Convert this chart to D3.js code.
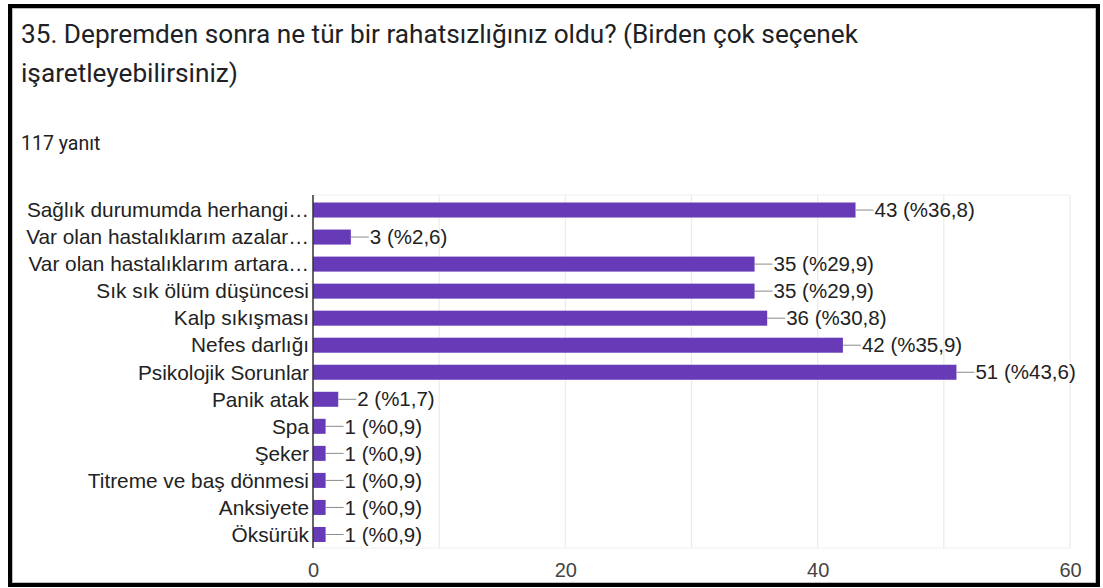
<!DOCTYPE html>
<html>
<head>
<meta charset="utf-8">
<script src="https://cdn.jsdelivr.net/npm/d3@7"></script>
<style>
  body { margin: 0; background: #fff; }
  svg { display: block; }
</style>
</head>
<body>
<div id="vis"></div>
<script>
// chart data
var categories = [
    "Sağlık durumumda herhangi…",
    "Var olan hastalıklarım azalar…",
    "Var olan hastalıklarım artara…",
    "Sık sık ölüm düşüncesi",
    "Kalp sıkışması",
    "Nefes darlığı",
    "Psikolojik Sorunlar",
    "Panik atak",
    "Spa",
    "Şeker",
    "Titreme ve baş dönmesi",
    "Anksiyete",
    "Öksürük"
];
var counts = [43, 3, 35, 35, 36, 42, 51, 2, 1, 1, 1, 1, 1];
var percents = ["36,8", "2,6", "29,9", "29,9", "30,8", "35,9", "43,6", "1,7", "0,9", "0,9", "0,9", "0,9", "0,9"];
var tickLabels = [0, 20, 40, 60];
var gridValues = [10, 20, 30, 40, 50, 60];
var titleLines = [
    "35. Depremden sonra ne tür bir rahatsızlığınız oldu? (Birden çok seçenek",
    "işaretleyebilirsiniz)"
];
var responseText = "117 yanıt";

var width = 1103;
var height = 588;

var plot = { left: 313, right: 1070, top: 196.5, bottom: 548 };

var svg = d3.select("#vis")
    .append('svg')
    .attr('width', width)
    .attr('height', height);

// card border
svg.append('rect')
    .attr('x', 10).attr('y', 6)
    .attr('width', 1088).attr('height', 579)
    .attr('fill', '#fff')
    .attr('stroke', '#000')
    .attr('stroke-width', 4);
svg.append('rect')
    .attr('x', 12.5).attr('y', 8.5)
    .attr('width', 1083).attr('height', 574)
    .attr('fill', 'none')
    .attr('stroke', '#bdbdbd')
    .attr('stroke-width', 1);

// title + response count
svg.selectAll('text.title')
    .data(titleLines)
    .enter().append('text')
    .attr('class', 'title')
    .attr('x', 21)
    .attr('y', function(d, i) { return 43 + i * 39; })
    .style('font-family', 'Roboto, sans-serif')
    .style('font-size', '26.2px')
    .style('fill', '#202124')
    .text(function(d) { return d; });

svg.append('text')
    .attr('x', 21)
    .attr('y', 150)
    .style('font-family', 'Roboto, sans-serif')
    .style('font-size', '19.5px')
    .style('fill', '#202124')
    .text(responseText);

var xScale = d3.scaleLinear()
    .domain([0, 60])
    .range([plot.left, plot.right]);

var yScale = d3.scaleBand()
    .domain(categories)
    .range([plot.top, plot.bottom])
    .paddingInner(0.445)
    .paddingOuter(0.2225);

var g = svg.append('g');

// gridlines
g.selectAll('line.grid')
    .data(gridValues)
    .enter().append('line')
    .attr('x1', function(d) { return xScale(d); })
    .attr('x2', function(d) { return xScale(d); })
    .attr('y1', 195)
    .attr('y2', plot.bottom)
    .attr('stroke', '#ebebeb')
    .attr('stroke-width', 1.2);

g.selectAll('line.hgrid')
    .data([195, plot.bottom])
    .enter().append('line')
    .attr('x1', plot.left)
    .attr('x2', plot.right)
    .attr('y1', function(d) { return d; })
    .attr('y2', function(d) { return d; })
    .attr('stroke', '#f0f0f0')
    .attr('stroke-width', 1.2);

// bars
g.selectAll('rect.bar')
    .data(counts)
    .enter().append('rect')
    .attr('class', 'bar')
    .attr('x', xScale(0))
    .attr('y', function(d, i) { return yScale(categories[i]); })
    .attr('width', function(d) { return xScale(d) - xScale(0); })
    .attr('height', yScale.bandwidth())
    .style('fill', '#673ab7');

// connector lines and value labels
g.selectAll('line.conn')
    .data(counts)
    .enter().append('line')
    .attr('x1', function(d) { return xScale(d); })
    .attr('x2', function(d) { return xScale(d) + 18; })
    .attr('y1', function(d, i) { return yScale(categories[i]) + yScale.bandwidth() / 2; })
    .attr('y2', function(d, i) { return yScale(categories[i]) + yScale.bandwidth() / 2; })
    .attr('stroke', '#8a8a8a')
    .attr('stroke-width', 1);

g.selectAll('text.value')
    .data(counts)
    .enter().append('text')
    .attr('class', 'value')
    .attr('x', function(d) { return xScale(d) + 19; })
    .attr('y', function(d, i) { return yScale(categories[i]) + yScale.bandwidth() / 2; })
    .attr('dy', '0.35em')
    .style('font-family', 'Arial, "Liberation Sans", sans-serif')
    .style('font-size', '20.5px')
    .style('fill', '#222')
    .text(function(d, i) { return d + ' (%' + percents[i] + ')'; });

// category labels
g.selectAll('text.cat')
    .data(categories)
    .enter().append('text')
    .attr('class', 'cat')
    .attr('x', 309)
    .attr('y', function(d) { return yScale(d) + yScale.bandwidth() / 2; })
    .attr('dy', '0.35em')
    .attr('text-anchor', 'end')
    .style('font-family', 'Arial, "Liberation Sans", sans-serif')
    .style('font-size', '20.8px')
    .style('fill', '#222')
    .text(function(d) { return d; });

// left axis line
g.append('line')
    .attr('x1', plot.left).attr('x2', plot.left)
    .attr('y1', 195).attr('y2', plot.bottom)
    .attr('stroke', '#333')
    .attr('stroke-width', 1.5);

// x axis
var xAxis = d3.axisBottom(xScale)
    .tickValues(tickLabels)
    .tickSize(0)
    .tickPadding(15)
    .tickFormat(d3.format('d'));

var xAxisLabel = svg.append('g')
    .attr('transform', 'translate(0,' + plot.bottom + ')')
    .call(xAxis);
xAxisLabel.select('.domain').remove();
xAxisLabel.selectAll('text')
    .style('font-family', 'Arial, "Liberation Sans", sans-serif')
    .style('font-size', '20px')
    .style('fill', '#444');
</script>
</body>
</html>
